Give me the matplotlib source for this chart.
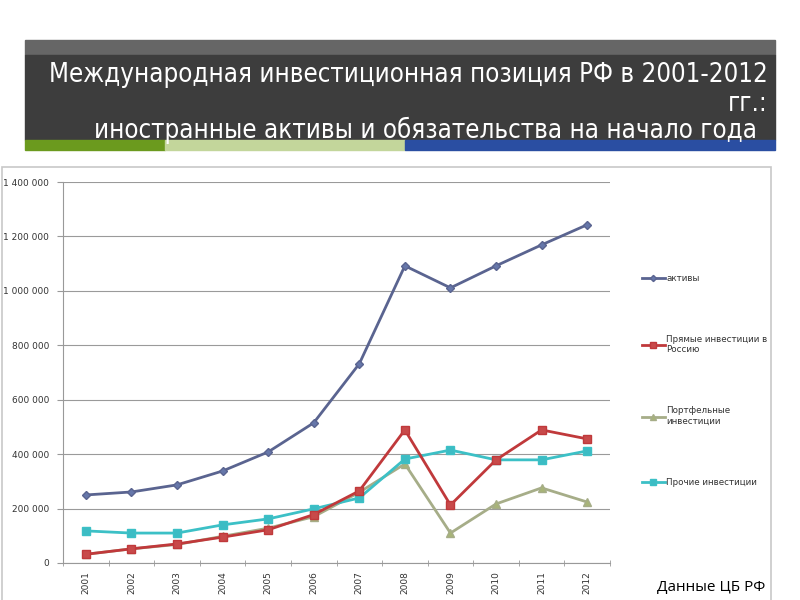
import matplotlib.pyplot as plt
from matplotlib.patches import Rectangle
from matplotlib.ticker import FuncFormatter

years = ["2001", "2002", "2003", "2004", "2005", "2006",
         "2007", "2008", "2009", "2010", "2011", "2012"]

aktivy = [250000, 261000, 287000, 338000, 408000, 515000,
          732000, 1092000, 1011000, 1092000, 1169000, 1243000]
pryamye = [32000, 52000, 70000, 95000, 122000, 178000,
           265000, 489000, 213000, 379000, 489000, 456000]
portfel = [32000, 52000, 68000, 98000, 128000, 170000,
           260000, 364000, 110000, 217000, 276000, 224000]
prochie = [118000, 110000, 110000, 140000, 162000, 199000,
           239000, 382000, 415000, 379000, 379000, 412000]

fig = plt.figure(figsize=(8, 6), dpi=100)

# header block
fig.patches.append(Rectangle((25/800, 1-55/600), 750/800, 15/600,
                             transform=fig.transFigure, color="#666666", zorder=0))
fig.patches.append(Rectangle((25/800, 1-140/600), 750/800, 85/600,
                             transform=fig.transFigure, color="#3d3d3d", zorder=0))
fig.patches.append(Rectangle((25/800, 1-150/600), 140/800, 10/600,
                             transform=fig.transFigure, color="#6b9a1e", zorder=0))
fig.patches.append(Rectangle((165/800, 1-150/600), 240/800, 10/600,
                             transform=fig.transFigure, color="#c3d69b", zorder=0))
fig.patches.append(Rectangle((405/800, 1-150/600), 370/800, 10/600,
                             transform=fig.transFigure, color="#2a4ea2", zorder=0))
# chart frame
fig.patches.append(Rectangle((2/800, -0.01), 769/800, 1-167/600 + 0.01,
                             transform=fig.transFigure, fill=False,
                             edgecolor="#c8c8c8", lw=1.2, zorder=0))

title_kw = dict(ha="right", va="center", color="white", fontsize=18.5,
                family="DejaVu Sans", fontstretch="condensed")
fig.text(768/800, 1-75/600, "Международная инвестиционная позиция РФ в 2001-2012", **title_kw)
fig.text(768/800, 1-104/600, "гг.:", **title_kw)
fig.text(757/800, 1-130/600, "иностранные активы и обязательства на начало года", **title_kw)

ax = fig.add_axes([63/800, 37/600, 547/800, 381/600])
x = range(len(years))
ax.plot(x, aktivy, color="#5a6490", lw=2, marker="D", ms=4.5,
        mfc="#6677aa", mec="#5a6490", label="активы", zorder=5)
ax.plot(x, pryamye, color="#c0393b", lw=2, marker="s", ms=6,
        mfc="#c84a4a", mec="#c0393b", label="Прямые инвестиции в\nРоссию", zorder=4)
ax.plot(x, portfel, color="#a6ad88", lw=2, marker="^", ms=6,
        mfc="#a8b478", mec="#a6ad88", label="Портфельные\nинвестиции", zorder=3)
ax.plot(x, prochie, color="#3cc0c6", lw=2, marker="s", ms=6,
        mfc="#3cbcc4", mec="#3cc0c6", label="Прочие инвестиции", zorder=3)

ax.set_xlim(-0.5, 11.5)
ax.set_ylim(0, 1400000)
ax.set_yticks(range(0, 1400001, 200000))
ax.yaxis.set_major_formatter(FuncFormatter(lambda v, p: f"{int(v):,}".replace(",", " ")))
ax.set_xticks(list(x))
ax.set_xticklabels(years, rotation=90, fontsize=6.5, color="#333333")
ax.set_xticks([i + 0.5 for i in range(-1, 12)], minor=True)
ax.tick_params(axis="x", which="major", length=0, pad=6)
ax.tick_params(axis="x", which="minor", length=4, direction="inout", color="#999999")
ax.tick_params(axis="y", labelsize=6.5, labelcolor="#333333", length=4, color="#999999", pad=6)
ax.grid(axis="y", color="#9a9a9a", lw=0.8)
ax.set_axisbelow(True)
for s in ["top", "right"]:
    ax.spines[s].set_visible(False)
ax.spines["left"].set_color("#999999")
ax.spines["bottom"].set_color("#999999")

leg = fig.legend(loc="upper left", bbox_to_anchor=(634/800, 1-266/600), frameon=False,
                 fontsize=6.3, labelspacing=5.95, handlelength=2.6, handletextpad=0.2,
                 markerscale=0.7)
for t in leg.get_texts():
    t.set_color("#333333")

fig.text(765/800, 1-587/600, "Данные ЦБ РФ", ha="right", va="center",
         fontsize=11, color="black", family="Open Sans")

fig.savefig("out.png", dpi=100)
